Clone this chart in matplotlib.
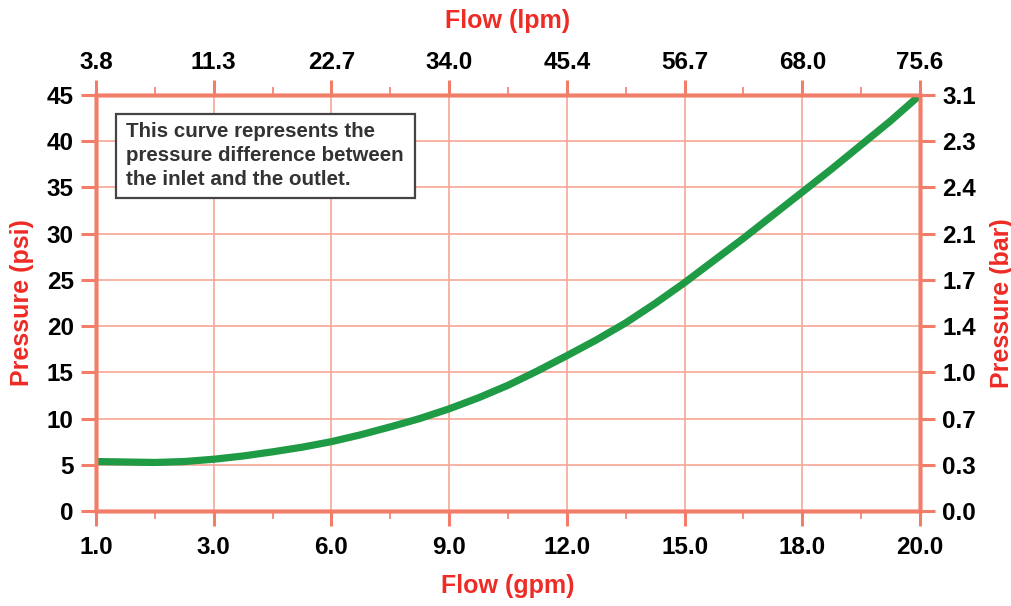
import matplotlib
matplotlib.use('Agg')
from matplotlib import pyplot as plt
from matplotlib.patches import Rectangle

# tick labels (axes are categorical: evenly spaced positions)
gpm_labels = ['1.0', '3.0', '6.0', '9.0', '12.0', '15.0', '18.0', '20.0']
lpm_labels = ['3.8', '11.3', '22.7', '34.0', '45.4', '56.7', '68.0', '75.6']
psi_ticks = [0, 5, 10, 15, 20, 25, 30, 35, 40, 45]
bar_labels = ['0.0', '0.3', '0.7', '1.0', '1.4', '1.7', '2.1', '2.4', '2.3', '3.1']

# curve, x in tick-position units (quarter steps)
curve_pos = [0, 0.25, 0.5, 0.75, 1, 1.25, 1.5, 1.75, 2, 2.25, 2.5, 2.75, 3, 3.25, 3.5,
             3.75, 4, 4.25, 4.5, 4.75, 5, 5.25, 5.5, 5.75, 6, 6.25, 6.5, 6.75, 7]
curve_psi = [5.35, 5.3, 5.25, 5.35, 5.6, 5.95, 6.4, 6.9, 7.5, 8.25, 9.1, 10.0, 11.05, 12.25, 13.6,
             15.15, 16.8, 18.5, 20.35, 22.45, 24.7, 27.1, 29.5, 32.0, 34.5, 37.0, 39.6, 42.2, 45.0]

spine_c = '#F27E6A'
grid_c = '#F6A797'
red = '#EE2B24'
plt.rcParams['font.family'] = ['Liberation Sans', 'DejaVu Sans']
plt.rcParams['font.weight'] = 'bold'

fig = plt.figure(figsize=(10.12, 6.06), dpi=100)
ax = fig.add_axes([96/1012, 1-511/606, 824/1012, 416/606])
pos = list(range(len(gpm_labels)))

ax.plot(curve_pos, curve_psi, c='#1f9a45', lw=5.2, solid_capstyle='butt',
        solid_joinstyle='round', zorder=5)
ax.set_xlim(0, 7)
ax.set_ylim(0, 45)
ax.set_xticks(pos)
ax.set_xticklabels(gpm_labels)
ax.set_xticks([p + 0.5 for p in pos[:-1]], minor=True)
ax.set_yticks(psi_ticks)
ax.grid(True, which='major', color=grid_c, lw=1.2)
ax.set_axisbelow(True)

ax2 = ax.twinx()
ax2.set_ylim(0, 45)
ax2.set_yticks(psi_ticks)
ax2.set_yticklabels(bar_labels)
ax3 = ax.twiny()
ax3.set_xlim(0, 7)
ax3.set_xticks(pos)
ax3.set_xticklabels(lpm_labels)
ax3.set_xticks([p + 0.5 for p in pos[:-1]], minor=True)

for a in (ax, ax2, ax3):
    for s in a.spines.values():
        s.set_color(spine_c)
        s.set_linewidth(2.5)
    a.tick_params(which='major', length=11, width=2.2, color=spine_c, labelsize=17.5, pad=5)
    a.tick_params(which='minor', length=6, width=1.2, color=spine_c)
    for t in a.get_xticklabels() + a.get_yticklabels():
        t.set_fontweight('bold')
ax.tick_params(axis='x', which='major', pad=7)
ax3.tick_params(axis='x', which='major', pad=4)

ax.set_xlabel('Flow (gpm)', color=red, fontsize=18, fontweight='bold', labelpad=11)
ax.set_ylabel('Pressure (psi)', color=red, fontsize=18, fontweight='bold', labelpad=9)
ax2.set_ylabel('Pressure (bar)', color=red, fontsize=18, fontweight='bold', labelpad=10, rotation=90)
ax3.set_xlabel('Flow (lpm)', color=red, fontsize=18, fontweight='bold', labelpad=17)

# note box
ax.add_patch(Rectangle((0.0243, 0.752), 0.363, 0.202, transform=ax.transAxes,
                       facecolor='white', edgecolor='#444444', lw=1.6, zorder=6))
ax.text(0.0364, 0.935, 'This curve represents the\npressure difference between\nthe inlet and the outlet.',
        transform=ax.transAxes, ha='left', va='top', fontsize=14.8, fontweight='bold',
        color='#333333', linespacing=1.33, zorder=7)

fig.savefig('out.png', dpi=100)
